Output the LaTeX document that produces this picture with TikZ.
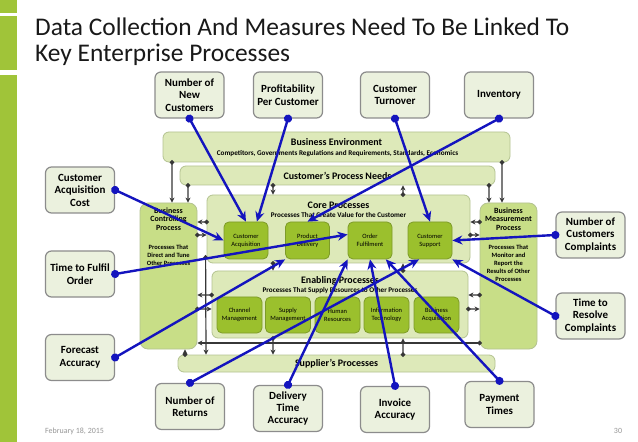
\documentclass[tikz,border=0pt]{standalone}
\usepackage{fontspec}
\setmainfont{Carlito}
\usepackage{tikz}
\usetikzlibrary{arrows.meta}
\definecolor{kpigreen}{RGB}{235,241,222}
\definecolor{kpigray}{RGB}{140,140,140}
\definecolor{procpale}{RGB}{221,233,185}
\definecolor{procedge}{RGB}{180,195,145}
\definecolor{procmid}{RGB}{200,222,135}
\definecolor{procdark}{RGB}{155,192,45}
\definecolor{procdarkedge}{RGB}{125,155,40}
\definecolor{barlime}{RGB}{160,196,57}
\definecolor{linkblue}{RGB}{20,20,190}
\definecolor{linkgray}{RGB}{55,55,55}
\definecolor{titlegray}{RGB}{25,25,25}
\definecolor{footgray}{RGB}{150,150,150}

\tikzset{
  kpi/.style={draw=kpigray, fill=kpigreen, line width=1.2bp, rounded corners=6bp, align=center,
    inner sep=0pt, minimum width=69bp, minimum height=46bp, font=\bfseries\fontsize{11}{12.5}\selectfont},
  paleproc/.style={draw=procedge, fill=procpale, line width=0.8bp, rounded corners=6bp, inner sep=0pt},
  sideproc/.style={draw=procedge, fill=procmid, line width=0.8bp, rounded corners=8bp, inner sep=0pt,
    minimum width=57bp, minimum height=146bp},
  subproc/.style={draw=procdarkedge, fill=procdark, line width=0.8bp, rounded corners=5bp, inner sep=0pt,
    align=center, font=\fontsize{6.5}{8}\selectfont, minimum height=37bp},
  boxtitle/.style={font=\bfseries\fontsize{10}{12}\selectfont, inner sep=0pt},
  boxsub/.style={font=\bfseries\fontsize{7.2}{8}\selectfont, inner sep=0pt, align=center},
  measure/.style={draw=linkblue, line width=2.4bp, {Circle[length=8bp]}-{Stealth[length=10bp,width=9bp]},
    shorten <=-4bp},
  link/.style={draw=linkgray, line width=1.2bp, {Circle[length=4.5bp]}-{Stealth[length=5bp,width=5bp]},
    shorten <=-2.25bp},
}

\begin{document}
\begin{tikzpicture}[x=1bp, y=-1bp]
\fill[white] (0,0) rectangle (638,442);
\useasboundingbox (0,0) rectangle (638,442);

% Side bar
\fill[barlime] (0,0) rectangle (17,13);
\fill[barlime] (0,16) rectangle (17,70);
\fill[barlime] (0,75) rectangle (17,442);

% Title
\node[anchor=base west, font=\fontsize{25.5}{30}\selectfont, text=titlegray, inner sep=0pt] (title1) at (35,36) {Data Collection And Measures Need To Be Linked To};
\node[anchor=base west, font=\fontsize{25.5}{30}\selectfont, text=titlegray, inner sep=0pt] (title2) at (35,62) {Key Enterprise Processes};

% Outer processes
\node[paleproc, minimum width=347bp, minimum height=30bp] (env) at (336.5,147) {};
\node[boxtitle] (envtitle) at (336.5,142) {Business Environment};
\node[boxsub] (envsub) at (337.5,153.5) {Competitors, Governments Regulations and Requirements, Standards, Economics};

\node[paleproc, minimum width=315bp, minimum height=19bp] (needs) at (337.5,175.5) {};
\node[boxtitle] (needstitle) at (337.5,176) {Customer's Process Needs};

\node[paleproc, minimum width=317bp, minimum height=17bp] (supp) at (336.5,363.5) {};
\node[boxtitle] (supptitle) at (336.5,364) {Supplier's Processes};

\node[sideproc] (ctrl) at (168.5,276) {};
\node[font=\bfseries\fontsize{8}{8.7}\selectfont, align=center, inner sep=0pt] (ctrltitle) at (168.5,219) {Business\\Controlling\\Process};
\node[font=\bfseries\fontsize{6.5}{8}\selectfont, align=center, inner sep=0pt] (ctrlsub) at (168.5,255) {Processes That\\Direct and Tune\\Other Processes};

\node[sideproc] (meas) at (508.5,276) {};
\node[font=\bfseries\fontsize{8}{8.7}\selectfont, align=center, inner sep=0pt] (meastitle) at (508.5,219) {Business\\Measurement\\Process};
\node[font=\bfseries\fontsize{6.5}{8}\selectfont, align=center, inner sep=0pt] (meassub) at (508.5,263) {Processes That\\Monitor and\\Report the\\Results of Other\\Processes};

% Core processes
\node[paleproc, minimum width=263bp, minimum height=68bp] (core) at (338.5,229) {};
\node[boxtitle] (coretitle) at (338.5,205) {Core Processes};
\node[boxsub] (coresub) at (338.5,215) {Processes That Create Value for the Customer};
\foreach \x/\n/\t in {246/acq/{Customer\\Acquisition}, 307.5/delivery/{Product\\Delivery},
                      370/order/{Order\\Fulfilment}, 430/support/{Customer\\Support}} {
  \node[subproc, minimum width=44bp] (\n) at (\x,240.5) {\t};
}

% Enabling processes
\node[paleproc, minimum width=256bp, minimum height=67bp] (enab) at (340,304.5) {};
\node[boxtitle] (enabtitle) at (340,281) {Enabling Processes};
\node[boxsub] (enabsub) at (340,291) {Processes That Supply Resources to Other Processes};
\foreach \x/\n/\t in {239.5/channel/{Channel\\Management}, 288/supply/{Supply\\Management},
                      337.5/human/{Human\\Resources}, 386.5/infotech/{Information\\Technology},
                      436.5/bizacq/{Business\\Acquisition}} {
  \node[subproc, minimum width=45bp, minimum height=36bp] (\n) at (\x,315) {\t};
}

% Links between processes
\draw[link] ([xshift=-164.5bp]env.south) -- ([xshift=3.5bp]ctrl.north);
\draw[link] ([xshift=-149.5bp]needs.south) -- ([xshift=19.5bp]ctrl.north);
\draw[link] ([xshift=165.5bp]env.south) -- ([xshift=-6.5bp]meas.north);
\draw[link] ([xshift=151.5bp]needs.south) -- ([xshift=-19.5bp]meas.north);
\draw[link] ([xshift=-64.5bp]needs.south) -- ([xshift=-65.5bp]core.north);
\draw[link] ([xshift=64.5bp]core.north) -- ([xshift=65.5bp]needs.south);
\draw[link] ([xshift=-65.5bp]core.south) -- ([xshift=-67bp]enab.north);
\draw[link] ([xshift=63bp]enab.north) -- ([xshift=64.5bp]core.south);
\draw[link] ([xshift=-67bp]enab.south) -- ([xshift=-63.5bp]supp.north);
\draw[link] ([xshift=66.5bp]supp.north) -- ([xshift=63bp]enab.south);
\draw[link] ([xshift=-151.5bp]supp.north) -- ([xshift=16.5bp]ctrl.south);
\draw[link] ([xshift=-1bp,yshift=6bp]core.south west) -- ([xshift=-130.5bp]supp.north);

\draw[link] ([yshift=7bp]core.west) -- ([yshift=54bp]ctrl.east);
\draw[link] ([yshift=41bp]ctrl.east) -- ([yshift=-6bp]core.west);
\draw[link] ([yshift=9.5bp]enab.west) -- ([yshift=-19bp]ctrl.east);
\draw[link] ([yshift=-33bp]ctrl.east) -- ([yshift=-4.5bp]enab.west);
\draw[link] ([yshift=54bp]meas.west) -- ([yshift=7bp]core.east);
\draw[link] ([yshift=-6bp]core.east) -- ([yshift=41bp]meas.west);
\draw[link] ([yshift=-19bp]meas.west) -- ([yshift=9.5bp]enab.east);
\draw[link] ([yshift=-4.5bp]enab.east) -- ([yshift=-33bp]meas.west);
\draw[link] ([yshift=-67bp]meas.west) -- ([yshift=-67bp]ctrl.east);

% Measures
\node[kpi] (newcust) at (189.5,95) {Number of\\New\\Customers};
\node[kpi] (profit) at (288,95) {Profitability\\Per Customer};
\node[kpi] (turnover) at (395,95) {Customer\\Turnover};
\node[kpi] (inventory) at (499,95) {Inventory};

\node[kpi] (acqcost) at (80,190) {Customer\\Acquisition\\Cost};
\node[kpi] (fulfil) at (80,274) {Time to Fulfil\\Order};
\node[kpi] (forecast) at (80,357.5) {Forecast\\Accuracy};

\node[kpi] (complaints) at (590.5,235) {Number of\\Customers\\Complaints};
\node[kpi] (resolve) at (590.5,316) {Time to\\Resolve\\Complaints};

\node[kpi] (returns) at (190,406.5) {Number of\\Returns};
\node[kpi] (delivtime) at (288,408.5) {Delivery\\Time\\Accuracy};
\node[kpi] (invoice) at (395,409.5) {Invoice\\Accuracy};
\node[kpi] (payment) at (499.5,404.5) {Payment\\Times};

\draw[measure] (newcust.south) -- (acq.north);
\draw[measure] (profit.south) -- (acq.60);
\draw[measure] (turnover.south) -- (support.north);
\draw[measure] (inventory.south) -- (delivery.north);
\draw[measure] (acqcost.east) -- (acq.west);
\draw[measure] (fulfil.east) -- (order.165);
\draw[measure] (forecast.east) -- (delivery.south west);
\draw[measure] (returns.north) -- (support.-120);
\draw[measure] (delivtime.north) -- (order.south west);
\draw[measure] (invoice.north) -- (order.south);
\draw[measure] (payment.north) -- (order.-50);
\draw[measure] (complaints.west) -- (support.east);
\draw[measure] (resolve.west) -- (support.south east);

% Footer
\node[anchor=west, font=\fontsize{8}{9}\selectfont, text=footgray, inner sep=0pt] (date) at (45,431) {February 18, 2015};
\node[font=\fontsize{8}{9}\selectfont, text=footgray, inner sep=0pt] (pagenum) at (618,431) {30};
\end{tikzpicture}
\end{document}
